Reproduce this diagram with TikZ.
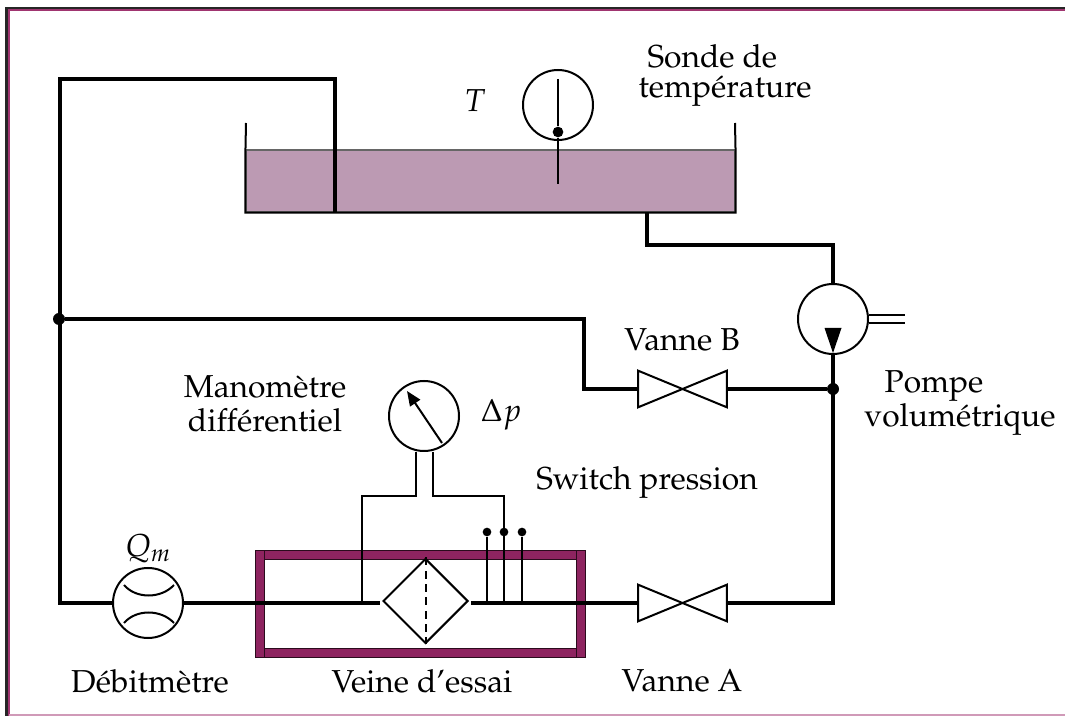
\documentclass[tikz,border=0pt]{standalone}
\usepackage[T1]{fontenc}
\usepackage{mathpazo}
\usepackage{xcolor}
\usepackage{tikz}
\usetikzlibrary{arrows.meta,positioning,calc,shapes.geometric}
\definecolor{prune}{HTML}{8E2460}
\definecolor{bain}{HTML}{BC9AB3}
\definecolor{cadre}{HTML}{A03570}

\begin{document}
\begin{tikzpicture}[
  x=0.75pt,y=-0.75pt,
  pipe/.style={line width=3pt},
  fin/.style={line width=1.5pt},
  cercle/.style={circle,draw,fin,fill=white,minimum size=52.5pt,inner sep=0pt},
  vanne/.style={minimum width=66pt,minimum height=27pt,inner sep=0pt},
  bowtie/.style={fin,fill=white},
  jonc/.style={circle,fill=black,inner sep=0pt,minimum size=9pt},
  picot/.style={circle,fill=black,inner sep=0pt,minimum size=6.5pt},
  paroi/.style={fill=prune,draw=black!70!prune,line width=0.5pt},
  lbl/.style={font=\fontsize{23.8}{26}\selectfont,inner sep=0pt,align=center}
]
\useasboundingbox (0,0) rectangle (1065,716);
% cadre
\draw[line width=2pt,black!85] (6.5,716) -- (6.5,8) -- (1065,8);
\draw[line width=1.7pt,cadre] (9,716) -- (9,10) -- (1065,10);
\draw[line width=1pt,cadre!50] (9,715) -- (1065,715);
% bac
\node[draw=black!60,fill=bain,line width=0.8pt,minimum width=366.75pt,minimum height=46.5pt,inner sep=0pt] (bac) at (490.5,181) {};
\coordinate (bacg) at (246,123);
\coordinate (bacd) at (735,123);
\draw[fin] (bacg) -- (bac.north west) -- (bac.south west) -- (bac.south east) -- (bac.north east) -- (bacd);
% veine d'essai
\draw[paroi] (255,550) rectangle (585,559);
\draw[paroi] (255,648) rectangle (585,657);
\draw[paroi] (255,550) rectangle (264,657);
\draw[paroi] (576,550) rectangle (585,657);
% composants
\node[cercle] (deb) at (148,603) {};
\node[cercle] (mano) at (424,416) {};
\node[cercle] (sonde) at (558,105) {};
\node[cercle] (pompe) at (833,319) {};
\node[vanne] (vb) at (682.5,389) {};
\node[vanne] (va) at (682.5,603) {};
\node[diamond,draw,fin,minimum width=63.75pt,minimum height=63.75pt,inner sep=0pt] (filtre) at (425.5,601) {};
\node[jonc] (j1) at (59,319) {};
\node[jonc] (j2) at (833,389) {};
\foreach \v in {vb,va}
  \draw[bowtie] (\v.north west) -- (\v.south east) -- (\v.north east) -- (\v.south west) -- cycle;
% circuit
\coordinate (c1) at (60,79);
\coordinate (c2) at (335,79);
\coordinate (c3) at (335,212);
\coordinate (c4) at (60,603);
\coordinate (c5) at (584,319);
\coordinate (c6) at (584,389);
\coordinate (c7) at (647,212);
\coordinate (c8) at (647,245);
\coordinate (c9) at (833,245);
\coordinate (c10) at (833,603);
\coordinate (f1) at (380,603);
\coordinate (f2) at (471,603);
\draw[pipe] (c3) -- (c2) -- (c1) -- (c4) -- (deb.west);
\draw[pipe] (j1) -- (c5) -- (c6) -- (vb.west);
\draw[pipe] (vb.east) -- (j2);
\draw[pipe] (c7) -- (c8) -- (c9) -- (pompe.north);
\draw[pipe] (pompe.south) -- (c10) -- (va.east);
\draw[pipe] (deb.east) -- (f1);
\draw[pipe] (f2) -- (va.west);
% debitmetre
\draw[fin] (124,585) .. controls (136,599) and (161,599) .. (174,585);
\draw[fin] (124,623) .. controls (136,609) and (161,609) .. (174,623);
% filtre
\draw[fin,dash pattern=on 6pt off 4pt] (filtre.north) -- (filtre.south);
% pompe
\fill (833,353) -- (824.5,328) -- (841.5,328) -- cycle;
\coordinate (ar1) at (905,315);
\coordinate (ar2) at (905,323);
\draw[fin] (pompe.east |- ar1) -- (ar1);
\draw[fin] (pompe.east |- ar2) -- (ar2);
% sonde
\node[picot,minimum size=8pt] (bulbe) at (558,132) {};
\draw[fin] (558,79) -- (bulbe) -- (558,184);
% manometre
\coordinate (aig1) at (442,443);
\coordinate (aig2) at (407,391);
\draw[fin,-{Triangle[length=11pt,width=9pt]}] (aig1) -- (aig2);
\coordinate (m1) at (416,496);
\coordinate (m2) at (433,496);
\coordinate (m3) at (362,496);
\coordinate (m4) at (504,496);
\coordinate (m5) at (362,603);
\coordinate (m6) at (504,603);
\draw[fin] (mano.south -| m1) -- (m1) -- (m3) -- (m5);
\draw[fin] (mano.south -| m2) -- (m2) -- (m4) -- (m6);
% switch
\node[picot] (s1) at (487,532) {};
\node[picot] (s2) at (504,532) {};
\node[picot] (s3) at (522,532) {};
\foreach \s in {s1,s2,s3}
  \draw[fin] (\s) -- (\s |- f2);
% textes
\node[lbl] (tT) at (475,101) {$T$};
\node[lbl] (tsonde) at (725,75.5) {\makebox[0pt]{\hspace*{-19pt}Sonde de}\\[-3.75pt]temp\'erature};
\node[lbl] (tvb) at (682,340) {Vanne B};
\node[lbl] (tpompe) at (960,403) {\hspace*{-39pt}Pompe\\volum\'etrique};
\node[lbl] (tmano) at (265,404) {Manom\`etre\\diff\'erentiel};
\node[lbl] (tdp) at (501,415) {$\Delta p$};
\node[lbl] (tsw) at (647,482) {Switch pression};
\node[lbl] (tq) at (148,549) {$Q_m$};
\node[lbl] (tdeb) at (150,681) {D\'ebitm\`etre};
\node[lbl] (tve) at (422,681) {Veine d'essai};
\node[lbl] (tva) at (682,681) {Vanne A};
\end{tikzpicture}
\end{document}
